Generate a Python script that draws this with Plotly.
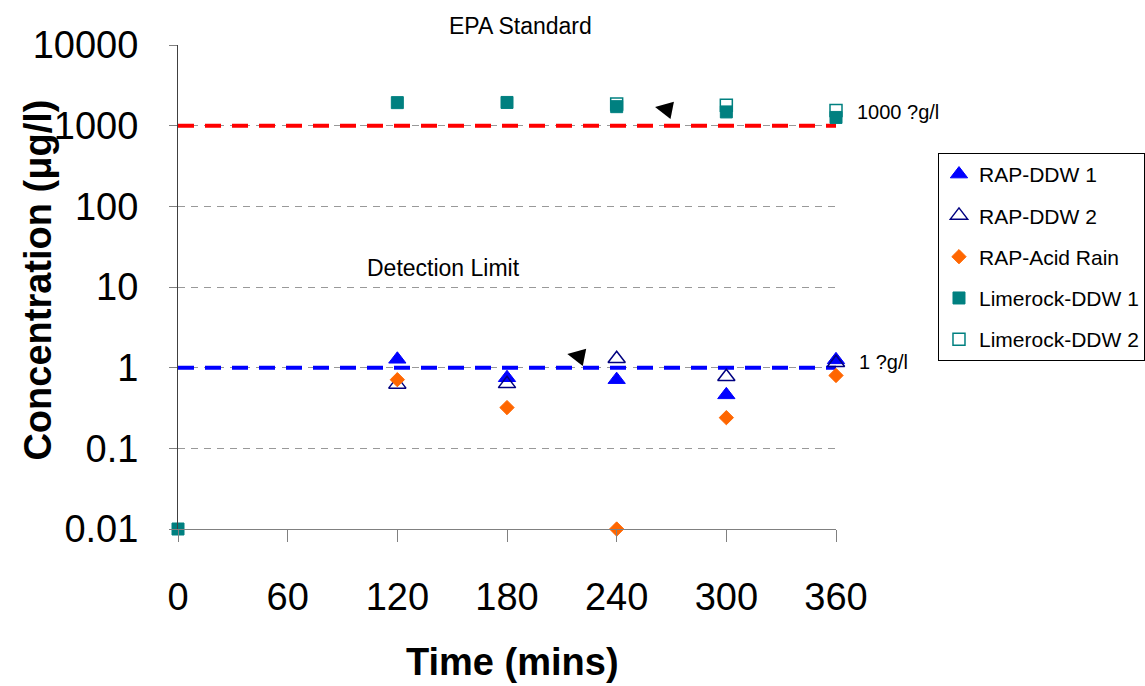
import math
import plotly.graph_objects as go

# sampling times (mins)
times = [0, 120, 180, 240, 300, 360]

# concentrations (ug/l), None = not plotted
rap_ddw1 = [None, 1.27, 0.75, 0.71, 0.46, 1.25]
rap_ddw2 = [None, 0.62, 0.63, 1.29, 0.77, 1.15]
rap_acid = [None, 0.71, 0.32, 0.01, 0.24, 0.80]
lime_ddw1 = [0.01, 1930, 1940, 1720, 1480, 1265]
lime_ddw2 = [None, None, None, 1860, 1795, 1540]

# reference levels
std_x = [0, 360]
epa_level = 1000
detect_level = 1

x_ticks = [0, 60, 120, 180, 240, 300, 360]
y_ticks = [0.01, 0.1, 1, 10, 100, 1000, 10000]
y_labels = ["0.01", "0.1", "1", "10", "100", "1000", "10000"]

FONT = "Liberation Sans, Arial, sans-serif"

fig = go.Figure()

# standard lines first, so the markers sit over them
fig.add_trace(go.Scatter(x=std_x, y=[epa_level] * 2, mode="lines", showlegend=False,
                         line=dict(color="#FF0000", width=4, dash="16px,11px"),
                         hoverinfo="skip"))
fig.add_trace(go.Scatter(x=std_x, y=[detect_level] * 2, mode="lines", showlegend=False,
                         line=dict(color="#0000FF", width=4, dash="16px,11px"),
                         hoverinfo="skip"))

series = [
    ("RAP-DDW 1", rap_ddw1, dict(symbol="triangle-up", size=15, color="#0000FF",
                                 line=dict(color="#0000FF", width=1))),
    ("RAP-DDW 2", rap_ddw2, dict(symbol="triangle-up-open", size=15, color="#000080",
                                 line=dict(color="#000080", width=1.5))),
    ("RAP-Acid Rain", rap_acid, dict(symbol="diamond", size=11, color="#FF6600",
                                     line=dict(color="#FF6600", width=1))),
    ("Limerock-DDW 1", lime_ddw1, dict(symbol="square", size=12, color="#008080",
                                       line=dict(color="#008080", width=1))),
    ("Limerock-DDW 2", lime_ddw2, dict(symbol="square-open", size=12, color="#008080",
                                       line=dict(color="#008080", width=1.5))),
]
for i, (name, vals, mk) in enumerate(series):
    fig.add_trace(go.Scatter(x=times, y=vals, name=name, mode="markers",
                             marker=mk, cliponaxis=False, legendgroup=str(i)))


def note(text, x, y, size, xanchor="center", **kw):
    return dict(text=text, x=x, y=y, xref="paper", yref="paper", showarrow=False,
                xanchor=xanchor, yanchor="middle", font=dict(size=size), **kw)


annots = [
    note("EPA Standard", 0.52, 1.04, 23),
    note("Detection Limit", 0.403, 0.54, 23),
    note("1000 ?g/l", 1.029, 0.862, 20, xanchor="left"),
    note("1 ?g/l", 1.032, 0.345, 20, xanchor="left"),
    note("<b>Concentration (\u03bcg/l)</b>", -0.213, 0.515, 38, textangle=-90),
    note("<b>Time (mins)</b>", 0.508, -0.275, 38),
]
# the two stray arrow heads
for ax_x, ax_y in [(261, 1706), (213, 1.48)]:
    annots.append(dict(text="", x=ax_x, y=math.log10(ax_y), xref="x", yref="y",
                       showarrow=True, arrowhead=2, arrowsize=3.5, arrowwidth=1,
                       arrowcolor="#000000", ax=15, ay=3))

fig.update_layout(
    width=1145, height=686,
    margin=dict(l=178, r=309, t=45, b=157, autoexpand=False),
    paper_bgcolor="white", plot_bgcolor="white",
    font=dict(family=FONT, color="#000000", size=21),
    annotations=annots,
    legend=dict(x=1.155, y=0.777, xanchor="left", yanchor="top",
                bgcolor="white", bordercolor="#000000", borderwidth=1,
                font=dict(size=21), tracegroupgap=11, traceorder="grouped"),
)
fig.update_xaxes(range=[0, 360], tickvals=x_ticks, showgrid=False, zeroline=False,
                 showline=True, linecolor="#808080", linewidth=1,
                 ticks="outside", ticklen=12, tickcolor="#808080",
                 tickfont=dict(size=38), ticklabelstandoff=22)
fig.update_yaxes(type="log", range=[-2, 4], tickvals=y_ticks, ticktext=y_labels,
                 showgrid=True, gridcolor="#999999", griddash="7px,6px", gridwidth=1,
                 zeroline=False, showline=True, linecolor="#404040", linewidth=1,
                 ticks="outside", ticklen=8, tickcolor="#808080",
                 tickfont=dict(size=38), ticklabelstandoff=23)

fig.write_html("out.html", config={"displayModeBar": False},
               default_width="1145px", default_height="686px",
               post_script="document.body.style.margin='0';document.body.style.overflow='hidden';")
